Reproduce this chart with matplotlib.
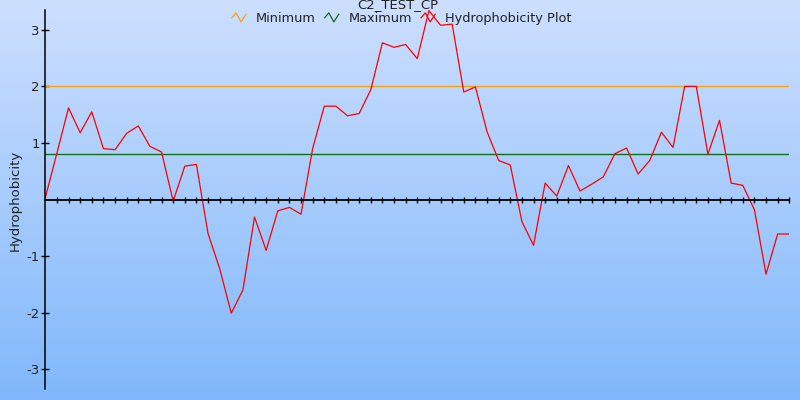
import numpy as np
import matplotlib
matplotlib.use('Agg')
import matplotlib.pyplot as plt
from matplotlib.lines import Line2D
from matplotlib.legend_handler import HandlerBase

title = 'C2_TEST_CP'
y_label = 'Hydrophobicity'
minimum_value = 2.0
maximum_value = 0.81
hydrophobicity = [0.03, 0.82, 1.62, 1.18, 1.55, 0.90, 0.88, 1.17, 1.30, 0.94,
                  0.84, -0.03, 0.59, 0.62, -0.60, -1.22, -2.01, -1.60, -0.31, -0.90,
                  -0.20, -0.14, -0.26, 0.90, 1.65, 1.65, 1.48, 1.52, 1.94, 2.77,
                  2.69, 2.74, 2.49, 3.34, 3.08, 3.10, 1.90, 1.99, 1.20, 0.69,
                  0.61, -0.39, -0.81, 0.29, 0.06, 0.60, 0.15, 0.27, 0.40, 0.81,
                  0.91, 0.45, 0.69, 1.19, 0.92, 2.00, 2.00, 0.80, 1.40, 0.29,
                  0.25, -0.18, -1.32, -0.61, -0.61]
positions = np.arange(len(hydrophobicity))
y_ticks = [-3, -2, -1, 1, 2, 3]


class ZigZagHandler(HandlerBase):
    # legend icon drawn as a small zigzag like the original chart
    def create_artists(self, legend, orig_handle, xdescent, ydescent,
                       width, height, fontsize, trans):
        xs = np.array([0.0, 0.3, 0.65, 1.0]) * width - xdescent
        ys = np.array([0.45, 1.0, 0.0, 0.85]) * height - ydescent
        line = Line2D(xs, ys, color=orig_handle.get_color(), lw=0.9)
        line.set_transform(trans)
        return [line]


fig = plt.figure(figsize=(8, 4), dpi=100)

# background gradient over the whole figure
bg = fig.add_axes([0, 0, 1, 1], zorder=-10)
grad = np.linspace(0, 1, 256).reshape(-1, 1)
cmap = matplotlib.colors.LinearSegmentedColormap.from_list('bg', ['#cddfff', '#80b8fb'])
bg.imshow(grad, aspect='auto', cmap=cmap, extent=[0, 1, 0, 1], origin='upper')
bg.axis('off')

ax = fig.add_axes([0.0566, 0.0275, 0.93, 0.9475])
ax.patch.set_alpha(0)

l_min = ax.axhline(minimum_value, color='#f0a41c', lw=1, label='Minimum')
l_max = ax.axhline(maximum_value, color='#11701a', lw=1, label='Maximum')
l_h, = ax.plot(positions, hydrophobicity, color='#ff0000', lw=0.9, label='Hydrophobicity Plot')

ax.set_xlim(positions[0], positions[-1])
lim = max(abs(v) for v in hydrophobicity)
ax.set_ylim(-lim - 0.01, lim + 0.01)

for side in ['top', 'right']:
    ax.spines[side].set_visible(False)
ax.spines['bottom'].set_position(('data', 0))
ax.spines['bottom'].set_linewidth(1.3)
ax.spines['left'].set_linewidth(1.1)

ax.set_xticks(positions[1:])
ax.set_xticklabels([])
ax.tick_params(axis='x', direction='inout', length=5, width=1)
ax.set_yticks(y_ticks)
ax.set_yticklabels([str(t) for t in y_ticks])
ax.tick_params(axis='y', direction='inout', length=6, width=1, labelsize=9.5,
               labelcolor='#222222', pad=1)

fig.text(0.019, 0.5, y_label, rotation=90, ha='center', va='center',
         fontsize=9.5, color='#222222')
fig.text(0.4975, 1.004, title, ha='center', va='top', fontsize=9.5, color='#222222')

fig.legend(handles=[l_min, l_max, l_h], loc='center', bbox_to_anchor=(0.502, 0.954),
           ncol=3, frameon=False, fontsize=9.3, handlelength=1.1, handletextpad=0.75,
           columnspacing=0.7, handler_map={Line2D: ZigZagHandler()},
           labelcolor='#222222')

fig.savefig('out.png', dpi=100)
